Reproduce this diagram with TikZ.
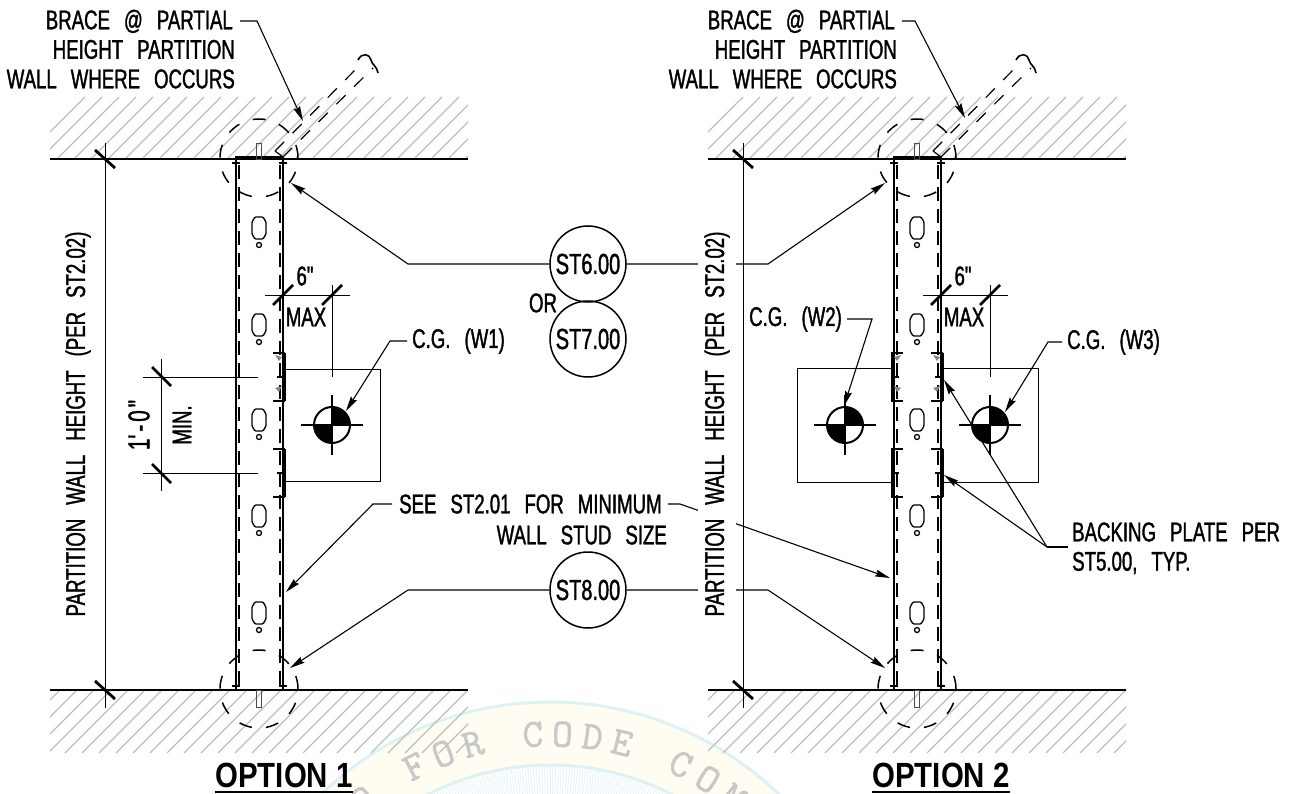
\documentclass[tikz,border=0pt]{standalone}
\usepackage{fontspec}
\usepackage{xcolor}
\usetikzlibrary{arrows.meta,positioning,calc}
\newfontfamily\cadfont[FakeStretch=0.69,FakeBold=1.3,WordSpace=2.7]{Liberation Sans}
\newfontfamily\cadbold[FakeStretch=0.84]{Liberation Sans Bold}
\newfontfamily\sealfont[FakeBold=1.4]{Latin Modern Mono}
\definecolor{hatchgray}{RGB}{190,190,190}
\definecolor{sealcyan}{RGB}{222,242,245}
\definecolor{sealcream}{RGB}{255,253,241}
\definecolor{sealtext}{RGB}{200,200,200}

\begin{document}
\begin{tikzpicture}[
    x=1pt, y=-1pt,
    >=Stealth,
    hatchln/.style={draw=hatchgray, line width=1.3pt},
    slabln/.style={line width=2.2pt},
    wallln/.style={line width=2.4pt},
    studln/.style={line width=1.1pt, dash pattern=on 14pt off 8pt},
    detailcirc/.style={line width=1.5pt, dash pattern=on 13pt off 14.227pt, dash phase=13.2pt},
    braceln/.style={line width=1.2pt, dash pattern=on 13pt off 12pt},
    slotln/.style={line width=1.3pt},
    platebox/.style={line width=1pt},
    platebar/.style={line width=2.6pt},
    dimln/.style={line width=1pt},
    dimtick/.style={line width=2.8pt},
    leadln/.style={line width=1.1pt},
    leadarr/.style={leadln, -{Stealth[length=15pt, width=7pt, inset=2pt]}},
    cadtext/.style={font=\cadfont\fontsize{27}{29.5}\selectfont, inner sep=0pt},
    refbub/.style={circle, draw, line width=1.5pt, minimum size=76pt, inner sep=0pt,
        font=\cadfont\fontsize{29}{30}\selectfont},
    optlabel/.style={font=\cadbold\fontsize{35}{38}\selectfont, inner sep=0pt},
    sealch/.style={font=\sealfont\fontsize{40}{40}\selectfont, text=sealtext, inner sep=0pt},
]
\useasboundingbox (0,0) rectangle (1300,794);

% === Seal behind the drawing ===
\begin{scope}
\clip (0,0) rectangle (1300,794);
\fill[sealcream, even odd rule] (550,1032) circle[radius=330] (550,1032) circle[radius=267];
\draw[sealcyan, line width=3pt] (550,1032) circle[radius=330];
\draw[sealcyan, line width=3pt] (550,1032) circle[radius=267];
\foreach \a in {-60,-59.4,...,60}
    \draw[sealcyan, line width=0.6pt] ($(550,1032)+(\a-90:267)$) -- ($(550,1032)+(\a-90:235)$);
\foreach \ch/\a in {O/-38.8,F/-27,O/-21,R/-15,C/-3.3,O/2.4,D/8.2,E/14,C/26,O/32,M/38}
    \node[sealch, rotate=-\a] (seal\a) at ($(550,1032)+(\a-90:298)$) {\ch};
\end{scope}

% === Hatched slabs, walls, studs ===
\foreach \ox/\tag in {0/a,658/b} {
    \begin{scope}
    \clip (\ox+50,97) rectangle (\ox+468,159);
    \foreach \hx in {0,17,...,510}
        \draw[hatchln] (\ox+23+\hx,159) -- ++(62,-62);
    \end{scope}
    \begin{scope}
    \clip (\ox+50,690) rectangle (\ox+468,753);
    \foreach \hx in {0,17,...,510}
        \draw[hatchln] (\ox-3+\hx,753) -- ++(63,-63);
    \end{scope}
    \draw[slabln] (\ox+50,159) -- (\ox+468,159);
    \draw[slabln] (\ox+50,690) -- (\ox+468,690);

    % wall section
    \draw[wallln] (\ox+236,159) -- (\ox+236,690);
    \draw[wallln] (\ox+283,159) -- (\ox+283,690);
    \draw[line width=3.4pt] (\ox+235,158) -- (\ox+284,158);
    \draw[studln] (\ox+239,165) -- (\ox+239,686);
    \draw[studln] (\ox+280,165) -- (\ox+280,686);
    \foreach \tx in {236,283} {
        \draw[line width=1.5pt] (\ox+\tx-4,163) -- (\ox+\tx+4,163);
        \draw[line width=1.5pt] (\ox+\tx-4,686) -- (\ox+\tx+4,686);
    }

    % slots
    \foreach \sy in {228,325,420,516,613} {
        \draw[slotln, rounded corners=1pt] (\ox+255,\sy-11) -- (\ox+263,\sy-11) -- (\ox+266,\sy-6)
            -- (\ox+266,\sy+6) -- (\ox+263,\sy+11) -- (\ox+255,\sy+11)
            -- (\ox+252,\sy+6) -- (\ox+252,\sy-6) -- cycle;
        \draw[slotln] (\ox+259,\sy+17) circle[radius=2.5];
    }

    % anchors and detail circles
    \draw[line width=0.8pt, draw=black!70] (\ox+256.5,143) rectangle (\ox+261,159);
    \draw[line width=0.8pt, draw=black!70] (\ox+256.5,690) rectangle (\ox+261,707);
    \draw[detailcirc] (\ox+259,158) circle[radius=39];
    \draw[detailcirc] (\ox+259,689) circle[radius=39];

    % inclined brace
    \draw[line width=1.2pt] (\ox+283,157) -- (\ox+275,151);
    \draw[braceln] (\ox+275,151) -- (\ox+360,65);
    \draw[braceln] (\ox+283,157) -- (\ox+373,68);
    \draw[line width=1.6pt] (\ox+358,60) .. controls (\ox+362,52) and (\ox+370,54) .. (\ox+371,60)
        .. controls (\ox+372,65) and (\ox+377,66) .. (\ox+378,73);

    % right hand plate ends
    \foreach \py in {353,449} {
        \draw[platebar] (\ox+284.5,\py) -- (\ox+284.5,\py+48);
        \draw[line width=1.8pt] (\ox+273,\py) -- (\ox+285,\py);
        \draw[line width=1.8pt] (\ox+277,\py+24) -- (\ox+285,\py+24);
        \draw[line width=1.8pt] (\ox+273,\py+48) -- (\ox+285,\py+48);
    }
    \fill[hatchgray!70!black] (\ox+275,355) -- (\ox+282,357) -- (\ox+279,361) -- cycle;
    \fill[hatchgray!70!black] (\ox+275,388) -- (\ox+282,386) -- (\ox+279,392) -- cycle;

    % 6 in. dimension
    \draw[dimln] (\ox+265,295) -- (\ox+350,295);
    \draw[dimln] (\ox+332,285) -- (\ox+332,377);
    \draw[dimtick] (\ox+273,305) -- ++(20,-20);
    \draw[dimtick] (\ox+322,305) -- ++(20,-20);
}

% left hand plate ends, option 2 only
\foreach \py in {353,449} {
    \draw[platebar] (892,\py) -- (892,\py+48);
    \draw[line width=1.8pt] (891,\py) -- (903,\py);
    \draw[line width=1.8pt] (891,\py+24) -- (899,\py+24);
    \draw[line width=1.8pt] (891,\py+48) -- (903,\py+48);
}
\fill[hatchgray!70!black] (901,355) -- (894,357) -- (897,361) -- cycle;
\fill[hatchgray!70!black] (901,388) -- (894,386) -- (897,392) -- cycle;

% === Height dimensions ===
\foreach \dx/\tag in {105/a,743/b} {
    \draw[dimln] (\dx,143) -- (\dx,708);
    \draw[dimtick] (\dx-10,150) -- ++(20,18);
    \draw[dimtick] (\dx-10,681) -- ++(20,18);
}

% === Plates with C.G. marks ===
\draw[platebox] (285,369) -- (380,369) -- (380,481) -- (285,481);
\draw[platebox] (941,368) -- (1038,368) -- (1038,482) -- (941,482);
\draw[platebox] (893,368) -- (797,368) -- (797,482) -- (893,482);
\foreach \cx/\tag in {332/a,845/b,990/c} {
    \node[circle, draw, line width=2pt, minimum size=36pt, inner sep=0pt] (cg\tag) at (\cx,425) {};
    \fill (\cx,425) -- ++(18,0) arc[start angle=0, end angle=-90, radius=18] -- cycle;
    \fill (\cx,425) -- ++(-18,0) arc[start angle=180, end angle=90, radius=18] -- cycle;
    \draw[line width=2.2pt] (\cx-31,425) -- (\cx+31,425);
    \draw[line width=2.2pt] (\cx,395) -- (\cx,455);
}

% === 1'-0" dimension ===
\draw[dimln] (161,359) -- (161,491);
\draw[dimln] (143,377) -- (258,377);
\draw[dimln] (143,473) -- (258,473);
\draw[dimtick] (152,367) -- ++(19,19);
\draw[dimtick] (152,464) -- ++(19,19);
\node[cadtext, font=\cadfont\fontsize{30}{31}\selectfont, rotate=90] (onefoot) at (139,425) {1'\kern3pt-\kern3pt0\kern3pt"};
\node[cadtext, rotate=90] (minlab) at (182,425) {MIN.};
\node[cadtext] (sixa) at (305,276) {6"};
\node[cadtext] (maxa) at (306,317) {MAX};
\node[cadtext] (sixb) at (963,276) {6"};
\node[cadtext] (maxb) at (964,317) {MAX};

% === Reference bubbles ===
\node[refbub] (st6) at (588,264) {ST6.00};
\node[refbub] (st7) at (588,339) {ST7.00};
\node[refbub] (st8) at (588,590) {ST8.00};
\node[cadtext] (orlab) at (543,303) {OR};

% === Notes ===
\node[cadtext, align=right, anchor=north east] (bracea) at (235,9.5) {BRACE @ PARTIAL\kern2pt\\HEIGHT PARTITION\\WALL WHERE OCCURS};
\node[cadtext, align=right, anchor=north east] (braceb) at (897,9.5) {BRACE @ PARTIAL\kern2pt\\HEIGHT PARTITION\\WALL WHERE OCCURS};
\node[cadtext, anchor=west] (cgwa) at (412,341) {C.G. (W1)};
\node[cadtext, anchor=west] (cgwb) at (749,319) {C.G. (W2)};
\node[cadtext, anchor=west] (cgwc) at (1067,342) {C.G. (W3)};
\node[cadtext, anchor=west] (seea) at (399,504) {SEE ST2.01 FOR MINIMUM};
\node[cadtext, anchor=east] (seeb) at (667,535) {WALL STUD SIZE};
\node[cadtext, anchor=west] (backa) at (1072,532) {BACKING PLATE PER};
\node[cadtext, anchor=west] (backb) at (1072,563) {ST5.00, TYP.};

% leader corners and tips
\coordinate (brkA) at (257,21);   \coordinate (tipbA) at (303,121);
\coordinate (brkB) at (915,21);   \coordinate (tipbB) at (965,118);
\coordinate (kst6a) at (408,264); \coordinate (tip6a) at (291,183);
\coordinate (kst6b) at (768,264); \coordinate (tip6b) at (885,183);
\coordinate (kst8a) at (408,590); \coordinate (tip8a) at (290,668);
\coordinate (kst8b) at (768,590); \coordinate (tip8b) at (885,668);
\coordinate (kcga) at (390,341);  \coordinate (tipcga) at (346,411);
\coordinate (kcgb) at (872,319);  \coordinate (tipcgb) at (844,406);
\coordinate (kcgc) at (1048,342); \coordinate (tipcgc) at (1005,412);
\coordinate (ksee) at (373,504);  \coordinate (tipsee) at (286,592);
\coordinate (kseer) at (680,504); \coordinate (tipseer) at (890,578);
\coordinate (kback) at (1047,547);\coordinate (kbacks) at (1068,547);
\coordinate (tipbk1) at (944,380);\coordinate (tipbk2) at (944,475);

% === Leaders ===
\draw[leadarr] ([xshift=5pt]bracea.north east |- brkA) -- (brkA) -- (tipbA);
\draw[leadarr] ([xshift=5pt]braceb.north east |- brkB) -- (brkB) -- (tipbB);
\draw[leadarr] (st6.west) -- (kst6a) -- (tip6a);
\draw[leadarr] (st6.east) -- (kst6b) -- (tip6b);
\draw[leadarr] (st8.west) -- (kst8a) -- (tip8a);
\draw[leadarr] (st8.east) -- (kst8b) -- (tip8b);
\draw[leadarr, shorten <=5pt] (cgwa.west) -- (kcga) -- (tipcga);
\draw[leadarr, shorten <=5pt] (cgwb.east) -- (kcgb) -- (tipcgb);
\draw[leadarr, shorten <=5pt] (cgwc.west) -- (kcgc) -- (tipcgc);
\draw[leadarr, shorten <=7pt] (seea.west) -- (ksee) -- (tipsee);
\draw[leadarr, shorten <=6pt] (seea.east) -- (kseer) -- (tipseer);
\draw[leadln] (kbacks) -- (kback);
\draw[leadarr] (kback) -- (tipbk1);
\draw[leadarr] (kback) -- (tipbk2);

% === Wall height text, white behind it breaks the leaders ===
\node[cadtext, rotate=90] (hta) at (78,424) {PARTITION WALL HEIGHT (PER ST2.02)};
\node[cadtext, rotate=90, fill=white, minimum height=38pt] (htb) at (717,424) {PARTITION WALL HEIGHT (PER ST2.02)};

% === Titles ===
\node[optlabel] (opta) at (284,775) {OPTION 1};
\node[optlabel] (optb) at (941,775) {OPTION 2};
\draw[line width=2.4pt] (opta.south west |- 0,792) -- (opta.south east |- 0,792);
\draw[line width=2.4pt] (optb.south west |- 0,792) -- (optb.south east |- 0,792);

\end{tikzpicture}
\end{document}
